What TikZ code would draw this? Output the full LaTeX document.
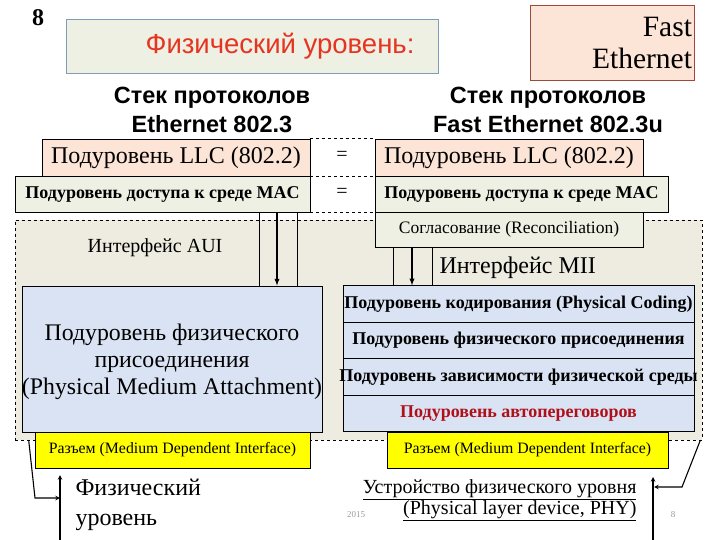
\documentclass[tikz,border=0pt]{standalone}
\usepackage{fontspec}
\setmainfont{Liberation Serif}
\setsansfont{Liberation Sans}
\usepackage{tikz}
\usetikzlibrary{positioning,calc}
\definecolor{ink}      {HTML}{000000}
\definecolor{headfill} {HTML}{EEF0E4}
\definecolor{headline} {HTML}{7F9DB9}
\definecolor{peach}    {HTML}{FCE4D6}
\definecolor{rust}     {HTML}{9E4A3A}
\definecolor{sage}     {HTML}{EEF0E4}
\definecolor{bandfill} {HTML}{EEECE1}
\definecolor{skyfill}  {HTML}{DAE3F3}
\definecolor{mdiyel}   {HTML}{FFFF00}
\definecolor{titlered} {HTML}{E53420}
\definecolor{autored}  {HTML}{B0101A}
\definecolor{pagegrey} {HTML}{9A9A9A}
\tikzset{
  >=stealth,
  % --- nodes
  blk/.style    = {draw=ink, line width=0.8pt, inner sep=0pt, align=center},
  headbox/.style= {blk, draw=headline, fill=headfill, minimum width=372, minimum height=54,
                   text=titlered, font=\sffamily\fontsize{27.5}{30}\selectfont},
  febox/.style  = {blk, draw=rust, fill=peach, minimum width=164, minimum height=75,
                   text width=160, align=right, font=\fontsize{29.5}{32}\selectfont},
  stack/.style  = {align=center, font=\sffamily\bfseries\fontsize{23.5}{29}\selectfont},
  llc/.style    = {blk, fill=peach, minimum width=268, minimum height=37,
                   font=\fontsize{24}{27}\selectfont},
  mac/.style    = {blk, fill=sage, minimum height=36, font=\bfseries\fontsize{18}{20}\selectfont},
  recon/.style  = {blk, fill=sage, minimum width=268, minimum height=35,
                   font=\fontsize{17.5}{20}\selectfont},
  band/.style   = {draw=ink, dashed, line width=0.6pt, fill=bandfill,
                   minimum width=687, minimum height=220, inner sep=0pt},
  pma/.style    = {blk, fill=skyfill, minimum width=300, minimum height=146},
  pmatext/.style= {align=center, inner sep=0pt, font=\fontsize{23.8}{27}\selectfont},
  row/.style    = {blk, fill=skyfill, minimum width=351, minimum height=36.5,
                   font=\bfseries\fontsize{18}{20}\selectfont},
  mdi/.style    = {blk, fill=mdiyel, minimum height=36, font=\fontsize{15.8}{18}\selectfont},
  iface/.style  = {font=\fontsize{20}{25}\selectfont},
  eqsign/.style = {font=\fontsize{20}{24}\selectfont},
  pgnum/.style  = {text=pagegrey, font=\fontsize{9}{10}\selectfont},
  % --- edges
  wire/.style   = {draw=ink, line width=0.8pt},
  feed/.style   = {wire, line width=1.3pt, -latex},
  tie/.style    = {draw=ink, dashed, line width=0.6pt},
  bracket/.style= {draw=ink, line width=1.1pt, ->},
}
\begin{document}
\begin{tikzpicture}[x=1pt,y=-1pt]
  \useasboundingbox (0,0) rectangle (720,540);
  % physical layer band
  \node[band] (phys) at (358.5,330) {};

  % heading
  \node[font=\bfseries\fontsize{24}{24}\selectfont] (num) at (38,18) {8};
  \node[headbox] (title) at (252,46) {\hspace*{56pt}Физический уровень:};
  \node[febox] (fe) at (612,42.5) {Fast\\Ethernet};
  \node[stack] (stL) at (212,110) {Стек протоколов\\Ethernet 802.3};
  \node[stack] (stR) at (548,110) {Стек протоколов\\Fast Ethernet 802.3u};

  % upper sublayers
  \node[llc] (llcL) at (176,157.5) {Подуровень LLC (802.2)};
  \node[mac, minimum width=295] (macL) at (162.5,194) {Подуровень доступа к среде MAC};
  \node[llc] (llcR) at (509,157.5) {Подуровень LLC (802.2)};
  \node[mac, minimum width=293] (macR) at (521.5,194) {Подуровень доступа к среде MAC};
  \node[recon] (rec) at (509,229.5) {Согласование (Reconciliation)};
  \node[eqsign] (eq1) at (342,156) {=};
  \node[eqsign] (eq2) at (342,193) {=};
  \draw[tie] (llcL.north east) -- (llcR.north west);
  \draw[tie] (llcL.south east) -- (llcR.south west);
  \draw[tie] (macL.south east) -- (macR.south west);

  % interfaces
  \node[iface] (aui) at (155,248) {Интерфейс AUI};
  \node[iface, anchor=west, font=\fontsize{24}{27}\selectfont] (mii) at (436,268) {Интерфейс MII};

  % lower sublayers
  \node[pma] (pmaL) at (172,359) {};
  \node[pmatext] (pmaTxt) at (172,362) {Подуровень физического\\присоединения\\\makebox[0pt]{(Physical Medium Attachment)}};
  \node[row] (phy1) at (518.5,304) {\makebox[0pt]{Подуровень кодирования (Physical Coding)}};
  \node[row] (phy2) at (518.5,340.5) {\makebox[0pt]{Подуровень физического присоединения}};
  \node[row] (phy3) at (518.5,377) {\makebox[0pt]{Подуровень зависимости физической среды}};
  \node[row, text=autored] (phy4) at (518.5,413.5) {Подуровень автопереговоров};
  \node[mdi, minimum width=275] (mdiL) at (172.5,450) {Разъем (Medium Dependent Interface)};
  \node[mdi, minimum width=281] (mdiR) at (527.5,450) {Разъем (Medium Dependent Interface)};

  % AUI and MII wires
  \foreach \wx in {259,297}
    \draw[wire] (\wx,0 |- macL.south) -- (\wx,0 |- pmaL.north);
  \draw[feed] (277,0 |- macL.south) -- (277,0 |- pmaL.north);
  \foreach \wx in {393,432}
    \draw[wire] (\wx,0 |- rec.south) -- (\wx,0 |- phy1.north);
  \draw[feed] (412,0 |- rec.south) -- (412,0 |- phy1.north);

  % captions
  \node[anchor=west, align=left, font=\fontsize{24}{30}\selectfont] (physlbl) at (72,505) {Физический\\уровень};
  \node[anchor=east, align=right, font=\fontsize{20}{20}\selectfont] (phydev) at (640,500)
    {\underline{Устройство физического уровня}\\\underline{(Physical layer device, PHY)}};
  \node[pgnum] (year) at (356,515) {2015};
  \node[pgnum] (pg) at (673,515) {8};

  % brackets
  \coordinate (lknee) at (35,498);
  \coordinate (ltip)  at (60,498);
  \coordinate (lfoot) at (60,540);
  \coordinate (lhead) at (60,475);
  \coordinate (rknee) at (682,487);
  \coordinate (rtip)  at (654,487);
  \coordinate (rfoot) at (653,540);
  \coordinate (rhead) at (653,477);
  \draw[bracket] ([xshift=14pt]phys.south west) -- (lknee) -- (ltip);
  \draw[bracket] (lfoot) -- (lhead);
  \draw[bracket] ([xshift=-2pt]phys.south east) -- (rknee) -- (rtip);
  \draw[bracket] (rfoot) -- (rhead);
\end{tikzpicture}
\end{document}
